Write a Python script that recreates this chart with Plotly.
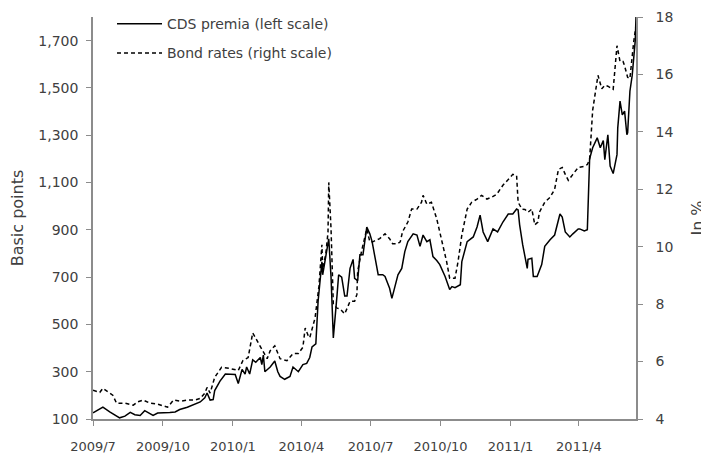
import plotly.graph_objects as go

# CDS premia (basis points, left scale)
cds_dates = [
    "2009-07-01", "2009-07-14", "2009-07-23", "2009-08-05", "2009-08-12", "2009-08-19", "2009-08-25",
    "2009-09-01", "2009-09-07", "2009-09-14", "2009-09-18", "2009-09-24", "2009-10-04", "2009-10-10",
    "2009-10-17", "2009-10-23", "2009-11-02", "2009-11-12", "2009-11-19", "2009-11-25", "2009-11-28",
    "2009-12-02", "2009-12-06", "2009-12-08", "2009-12-15", "2009-12-22", "2009-12-28", "2010-01-04",
    "2010-01-08", "2010-01-10", "2010-01-13", "2010-01-17", "2010-01-19", "2010-01-23", "2010-01-27",
    "2010-01-31", "2010-02-06", "2010-02-08", "2010-02-10", "2010-02-12", "2010-02-19", "2010-02-25",
    "2010-03-01", "2010-03-04", "2010-03-10", "2010-03-17", "2010-03-21", "2010-03-28", "2010-04-03",
    "2010-04-08", "2010-04-12", "2010-04-15", "2010-04-20", "2010-04-23", "2010-04-28", "2010-04-29",
    "2010-05-03", "2010-05-07", "2010-05-10", "2010-05-13", "2010-05-18", "2010-05-20", "2010-05-24",
    "2010-05-28", "2010-05-31", "2010-06-04", "2010-06-08", "2010-06-10", "2010-06-14", "2010-06-17",
    "2010-06-21", "2010-06-24", "2010-06-26", "2010-06-30", "2010-07-03", "2010-07-07", "2010-07-11",
    "2010-07-17", "2010-07-20", "2010-07-26", "2010-07-29", "2010-08-02", "2010-08-06", "2010-08-11",
    "2010-08-15", "2010-08-19", "2010-08-26", "2010-08-31", "2010-09-04", "2010-09-08", "2010-09-13",
    "2010-09-17", "2010-09-21", "2010-09-26", "2010-09-30", "2010-10-07", "2010-10-13", "2010-10-16",
    "2010-10-20", "2010-10-27", "2010-10-29", "2010-11-05", "2010-11-13", "2010-11-18", "2010-11-22",
    "2010-11-26", "2010-12-02", "2010-12-09", "2010-12-15", "2010-12-22", "2010-12-29", "2011-01-04",
    "2011-01-09", "2011-01-11", "2011-01-13", "2011-01-17", "2011-01-23", "2011-01-24", "2011-01-29",
    "2011-01-31", "2011-02-05", "2011-02-11", "2011-02-15", "2011-02-22", "2011-02-28", "2011-03-07",
    "2011-03-10", "2011-03-14", "2011-03-20", "2011-03-24", "2011-03-31", "2011-04-02", "2011-04-08",
    "2011-04-12", "2011-04-13", "2011-04-15", "2011-04-19", "2011-04-25", "2011-04-29", "2011-05-03",
    "2011-05-05", "2011-05-09", "2011-05-12", "2011-05-16", "2011-05-21", "2011-05-22", "2011-05-25",
    "2011-05-28", "2011-05-31", "2011-06-03", "2011-06-04", "2011-06-07", "2011-06-10", "2011-06-12",
    "2011-06-14", "2011-06-15",
]
cds_values = [
    126, 150, 130, 105, 112, 128, 118,
    115, 135, 122, 115, 125, 125, 128,
    130, 140, 150, 165, 172, 190, 210,
    180, 182, 220, 260, 290, 290, 288,
    250, 270, 310, 290, 320, 290, 350,
    340, 360, 330, 370, 300, 320, 345,
    300, 280, 268, 280, 320, 300, 330,
    335, 360, 405, 418, 598, 765, 710,
    780, 862, 700, 443, 628, 710, 700,
    620, 620, 737, 775, 695, 685, 795,
    795, 862, 912, 883, 850, 780, 710,
    710, 703, 653, 610, 660, 710, 737,
    808, 850, 883, 878, 830, 878, 850,
    858, 787, 770, 753, 703, 648, 660,
    655, 668, 766, 850, 870, 912, 962,
    891, 850, 904, 891, 933, 967, 967,
    988, 984, 921, 837, 737, 775, 780,
    703, 703, 753, 830, 858, 878, 967,
    954, 891, 870, 883, 904, 904, 895,
    900, 996, 1200, 1247, 1289, 1247, 1277,
    1197, 1302, 1170, 1138, 1218, 1331, 1444,
    1386, 1402, 1302, 1310, 1486, 1553, 1624,
    1700, 1800,
]

# Bond rates (%, right scale)
bond_dates = [
    "2009-07-01", "2009-07-10", "2009-07-14", "2009-07-21", "2009-07-27", "2009-08-01", "2009-08-12",
    "2009-08-23", "2009-08-29", "2009-09-05", "2009-09-14", "2009-09-24", "2009-10-07", "2009-10-15",
    "2009-10-24", "2009-11-02", "2009-11-12", "2009-11-19", "2009-11-25", "2009-11-28", "2009-12-02",
    "2009-12-08", "2009-12-17", "2009-12-28", "2010-01-04", "2010-01-08", "2010-01-14", "2010-01-21",
    "2010-01-27", "2010-02-02", "2010-02-08", "2010-02-15", "2010-02-19", "2010-02-25", "2010-03-04",
    "2010-03-13", "2010-03-21", "2010-03-28", "2010-04-03", "2010-04-06", "2010-04-10", "2010-04-12",
    "2010-04-19", "2010-04-24", "2010-04-28", "2010-04-29", "2010-05-03", "2010-05-06", "2010-05-07",
    "2010-05-10", "2010-05-13", "2010-05-18", "2010-05-22", "2010-05-28", "2010-06-04", "2010-06-10",
    "2010-06-13", "2010-06-14", "2010-06-19", "2010-06-26", "2010-06-30", "2010-07-04", "2010-07-09",
    "2010-07-13", "2010-07-20", "2010-07-26", "2010-07-30", "2010-08-05", "2010-08-09", "2010-08-12",
    "2010-08-19", "2010-08-24", "2010-08-31", "2010-09-06", "2010-09-08", "2010-09-13", "2010-09-19",
    "2010-09-26", "2010-10-02", "2010-10-09", "2010-10-13", "2010-10-20", "2010-10-24", "2010-10-29",
    "2010-11-05", "2010-11-11", "2010-11-18", "2010-11-24", "2010-12-01", "2010-12-07", "2010-12-14",
    "2010-12-22", "2010-12-29", "2011-01-04", "2011-01-09", "2011-01-11", "2011-01-16", "2011-01-20",
    "2011-01-24", "2011-01-29", "2011-02-02", "2011-02-06", "2011-02-08", "2011-02-15", "2011-02-22",
    "2011-02-28", "2011-03-05", "2011-03-10", "2011-03-14", "2011-03-18", "2011-03-24", "2011-03-31",
    "2011-04-08", "2011-04-12", "2011-04-15", "2011-04-19", "2011-04-26", "2011-05-01", "2011-05-05",
    "2011-05-09", "2011-05-16", "2011-05-21", "2011-05-25", "2011-05-29", "2011-05-31", "2011-06-04",
    "2011-06-07", "2011-06-10", "2011-06-12", "2011-06-15",
]
bond_values = [
    5.00, 4.93, 5.07, 4.95, 4.83, 4.55, 4.55,
    4.48, 4.60, 4.66, 4.55, 4.52, 4.41, 4.66,
    4.62, 4.66, 4.66, 4.72, 4.90, 5.10, 4.90,
    5.45, 5.80, 5.76, 5.72, 5.69, 6.03, 6.14,
    7.00, 6.72, 6.48, 6.10, 6.38, 6.55, 6.10,
    6.03, 6.28, 6.28, 6.50, 7.17, 6.90, 6.83,
    7.52, 8.60, 10.07, 9.24, 9.72, 10.50, 12.24,
    10.62, 8.00, 7.86, 7.83, 7.66, 8.10, 8.10,
    8.34, 9.14, 9.83, 10.62, 10.17, 10.17, 10.24,
    10.28, 10.45, 10.28, 10.10, 10.10, 10.17, 10.52,
    10.86, 11.31, 11.31, 11.55, 11.79, 11.48, 11.55,
    10.97, 10.28, 9.48, 8.90, 8.90, 9.48, 10.41,
    11.31, 11.55, 11.66, 11.79, 11.66, 11.72, 11.83,
    12.14, 12.34, 12.52, 12.48, 11.55, 11.31, 11.30,
    11.20, 11.31, 10.76, 10.86, 11.20, 11.55, 11.72,
    12.00, 12.69, 12.76, 12.52, 12.31, 12.52, 12.76,
    12.80, 12.86, 13.03, 14.75, 15.97, 15.50, 15.62,
    15.59, 15.48, 17.00, 16.45, 16.45, 16.30, 15.90,
    15.86, 16.75, 17.14, 17.70,
]

x_tick_vals = ["2009-07-01", "2009-10-01", "2010-01-01", "2010-04-01",
               "2010-07-01", "2010-10-01", "2011-01-01", "2011-04-01"]
x_tick_text = ["2009/7", "2009/10", "2010/1", "2010/4",
               "2010/7", "2010/10", "2011/1", "2011/4"]
left_ticks = [100, 300, 500, 700, 900, 1100, 1300, 1500, 1700]
right_ticks = [4, 6, 8, 10, 12, 14, 16, 18]

FONT = "Century Gothic, DejaVu Sans, sans-serif"
AXIS_COL = "#8c8c8c"
TEXT_COL = "#404040"

fig = go.Figure()
fig.add_trace(go.Scatter(
    x=cds_dates, y=cds_values, name="CDS premia (left scale)",
    mode="lines", line=dict(color="black", width=1.5),
    legendgroup="a", yaxis="y",
))
fig.add_trace(go.Scatter(
    x=bond_dates, y=bond_values, name="Bond rates (right scale)",
    mode="lines", line=dict(color="black", width=1.5, dash="4px,3px"),
    legendgroup="b", yaxis="y2",
))

# the page body adds an 8px offset, so the figure is 8px smaller each way
fig.update_layout(
    width=701, height=449,
    margin=dict(l=85, r=73, t=9, b=38, autoexpand=False),
    paper_bgcolor="white", plot_bgcolor="white",
    font=dict(family=FONT, size=13, color=TEXT_COL),
    showlegend=True,
    legend=dict(
        x=0.035, y=1.022, xanchor="left", yanchor="top",
        bgcolor="rgba(0,0,0,0)", font=dict(size=14, color=TEXT_COL),
        traceorder="grouped", tracegroupgap=8, itemwidth=45,
    ),
    xaxis=dict(
        type="date", range=["2009-07-01", "2011-06-15"],
        tickvals=x_tick_vals, ticktext=x_tick_text,
        showgrid=False, zeroline=False, automargin=False,
        showline=True, linecolor=AXIS_COL, linewidth=1.5,
        ticks="outside", ticklen=5, tickcolor=AXIS_COL, tickwidth=1,
        ticklabelstandoff=10, ticklabeloverflow="allow",
    ),
    yaxis=dict(
        range=[100, 1800], tickvals=left_ticks, tickformat=",",
        showgrid=False, zeroline=False, automargin=False,
        showline=True, linecolor=AXIS_COL, linewidth=1.5,
        ticks="outside", ticklen=5, tickcolor=AXIS_COL, tickwidth=1,
        ticklabelstandoff=5, tickfont=dict(size=14), ticklabeloverflow="allow",
        title=dict(text="Basic points", font=dict(size=16, color=TEXT_COL), standoff=13),
    ),
    yaxis2=dict(
        range=[4, 18], tickvals=right_ticks, overlaying="y", side="right",
        showgrid=False, zeroline=False, automargin=False,
        showline=True, linecolor=AXIS_COL, linewidth=1.5,
        ticks="outside", ticklen=5, tickcolor=AXIS_COL, tickwidth=1,
        ticklabelstandoff=10, ticklabeloverflow="allow",
        title=dict(text="In %", font=dict(size=16, color=TEXT_COL), standoff=19),
        tickfont=dict(size=14),
    ),
)

fig.write_html("out.html")
